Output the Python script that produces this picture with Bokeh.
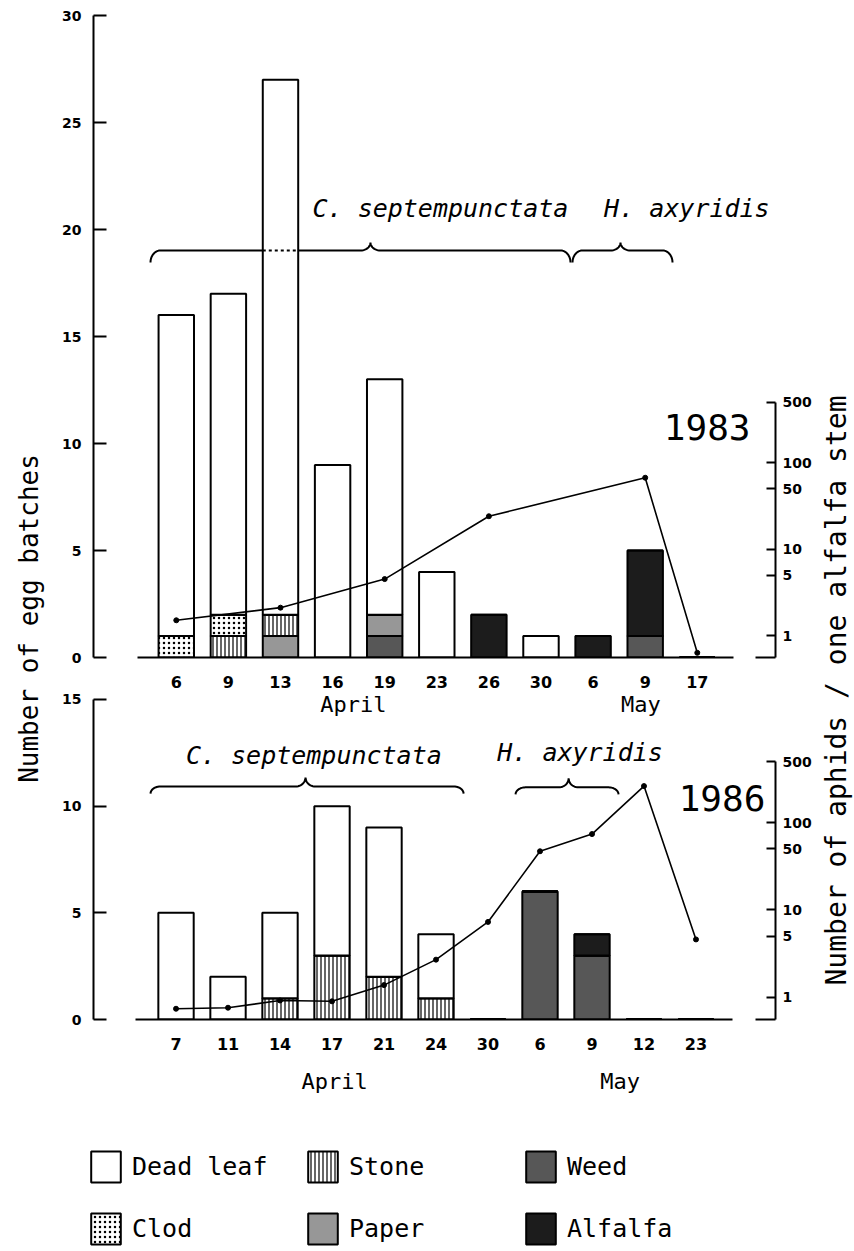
import math
from bokeh.plotting import figure
from bokeh.models import (Range1d, LogScale, LinearAxis, LogAxis, FixedTicker, Label,
                          Legend, LegendItem, ColumnDataSource, NumeralTickFormatter)
from bokeh.layouts import row, column
from bokeh.core.properties import value
from bokeh.embed import file_html
from bokeh.resources import INLINE

# ---------------- data ----------------
# stacking order, bottom -> top
substrates = ["Weed", "Paper", "Stone", "Clod", "Alfalfa", "Dead leaf"]

months_1983 = ["April"] * 8 + ["May"] * 3
days_1983 = ["6", "9", "13", "16", "19", "23", "26", "30", "6", "9", "17"]
weed_1983 = [0, 0, 0, 0, 1, 0, 0, 0, 0, 1, 0]
paper_1983 = [0, 0, 1, 0, 1, 0, 0, 0, 0, 0, 0]
stone_1983 = [0, 1, 1, 0, 0, 0, 0, 0, 0, 0, 0]
clod_1983 = [1, 1, 0, 0, 0, 0, 0, 0, 0, 0, 0]
alfalfa_1983 = [0, 0, 0, 0, 0, 0, 2, 0, 1, 4, 0]
deadleaf_1983 = [15, 15, 25, 9, 11, 4, 0, 1, 0, 0, 0]
aphid_dates_1983 = [("April", "6"), ("April", "13"), ("April", "19"), ("April", "26"),
                    ("May", "9"), ("May", "17")]
aphids_1983 = [1.5, 2.1, 4.5, 24, 67, 0.63]

months_1986 = ["April"] * 7 + ["May"] * 4
days_1986 = ["7", "11", "14", "17", "21", "24", "30", "6", "9", "12", "23"]
weed_1986 = [0, 0, 0, 0, 0, 0, 0, 6, 3, 0, 0]
paper_1986 = [0, 0, 0, 0, 0, 0, 0, 0, 0, 0, 0]
stone_1986 = [0, 0, 1, 3, 2, 1, 0, 0, 0, 0, 0]
clod_1986 = [0, 0, 0, 0, 0, 0, 0, 0, 0, 0, 0]
alfalfa_1986 = [0, 0, 0, 0, 0, 0, 0, 0, 1, 0, 0]
deadleaf_1986 = [5, 2, 4, 7, 7, 3, 0, 0, 0, 0, 0]
aphid_dates_1986 = list(zip(months_1986, days_1986))
aphids_1986 = [0.74, 0.76, 0.92, 0.9, 1.38, 2.7, 7.3, 47, 74, 262, 4.6]

egg_ticks_1983 = [0, 5, 10, 15, 20, 25, 30]
egg_ticks_1986 = [0, 5, 10, 15]
aphid_ticks = [1, 5, 10, 50, 100, 500]
month_names = ["April", "May"]

# ---------------- styling ----------------
W, H = 854, 1251
H_TOP, H_BOT = 690, 420
H_CHARTS = H_TOP + H_BOT
W_L, W_M, W_R = 46, 770, 38
BORDER_L, BORDER_R = 47, 41          # same for both stacked plots (Bokeh aligns them)
MONO = "DejaVu Sans Mono"
SANS = "DejaVu Sans"
BAR_W = 0.68

FILL = {"Weed": "#575757", "Paper": "#979797", "Stone": "white", "Clod": "white",
        "Alfalfa": "#1c1c1c", "Dead leaf": "white"}
HATCH = {"Weed": " ", "Paper": " ", "Stone": "vertical_line", "Clod": "dot",
         "Alfalfa": " ", "Dead leaf": " "}
HSCALE = {"Weed": 12, "Paper": 12, "Stone": 4, "Clod": 5, "Alfalfa": 12, "Dead leaf": 12}
HWEIGHT = {"Weed": 1, "Paper": 1, "Stone": 1.2, "Clod": 1.8, "Alfalfa": 1, "Dead leaf": 1}


def base_fig(width, height, xr, yr, borders):
    f = figure(width=width, height=height, x_range=Range1d(*xr), y_range=Range1d(*yr),
               x_axis_type=None, y_axis_type=None, output_backend="svg",
               toolbar_location=None, title=None,
               min_border_left=borders[0], min_border_right=borders[1],
               min_border_top=borders[2], min_border_bottom=borders[3],
               background_fill_color="white", border_fill_color="white",
               outline_line_color=None)
    return f


def brace(fig, x0, x1, xm, y, up, down, rx):
    xs, ys = [], []
    n = 12
    for i in range(n + 1):
        t = math.pi / 2 * i / n
        xs.append(x0 + rx * (1 - math.cos(t))); ys.append(y - down + down * math.sin(t))
    for i in range(n + 1):
        t = math.pi / 2 * i / n
        xs.append(xm - rx + rx * math.sin(t)); ys.append(y + up * (1 - math.cos(t)))
    for i in range(n + 1):
        t = math.pi / 2 * i / n
        xs.append(xm + rx - rx * math.cos(t)); ys.append(y + up - up * math.sin(t))
    for i in range(n + 1):
        t = math.pi / 2 * i / n
        xs.append(x1 - rx + rx * math.sin(t)); ys.append(y - down * (1 - math.cos(t)))
    fig.line(xs, ys, line_color="black", line_width=2)


def draw_panel(fig, months, days, counts, aphid_dates, aphids, ymax, yticks, log_span,
               base_bounds):
    lo, hi = log_span
    fig.extra_y_scales = {"aph": LogScale()}
    fig.extra_y_ranges = {"aph": Range1d(lo, hi)}
    idx = list(range(len(days)))
    data = {"x": idx}
    data.update(counts)
    src = ColumnDataSource(data)
    fig.vbar_stack(substrates, x="x", width=BAR_W, source=src,
                   fill_color=[FILL[s] for s in substrates],
                   hatch_pattern=[HATCH[s] for s in substrates],
                   hatch_scale=[HSCALE[s] for s in substrates],
                   hatch_weight=[HWEIGHT[s] for s in substrates],
                   hatch_color="black", line_color="black", line_width=2)
    keys = list(zip(months, days))
    ax = [keys.index(d) for d in aphid_dates]
    fig.line(ax, aphids, y_range_name="aph", line_color="black", line_width=1.6)
    fig.scatter(ax, aphids, y_range_name="aph", size=5, color="black")

    yax = LinearAxis(ticker=FixedTicker(ticks=yticks), bounds=(0, ymax),
                     major_tick_in=13, major_tick_out=0, minor_tick_line_color=None,
                     axis_line_width=2, major_tick_line_width=2, major_label_standoff=12,
                     major_label_text_font=SANS, major_label_text_font_style="bold",
                     major_label_text_font_size="14px", major_label_text_color="black")
    fig.add_layout(yax, "left")

    rax = LogAxis(y_range_name="aph",
                  ticker=FixedTicker(ticks=aphid_ticks, minor_ticks=[lo]),
                  bounds=(lo, max(aphid_ticks)), formatter=NumeralTickFormatter(format="0"),
                  major_tick_in=9, major_tick_out=0, minor_tick_in=20, minor_tick_out=0,
                  minor_tick_line_width=2, major_tick_line_width=2, axis_line_width=2,
                  major_label_standoff=7, major_label_text_font=SANS,
                  major_label_text_font_style="bold", major_label_text_font_size="14px",
                  major_label_text_color="black")
    fig.add_layout(rax, "right")

    xax = LinearAxis(ticker=FixedTicker(ticks=idx),
                     major_label_overrides={i: d for i, d in zip(idx, days)},
                     bounds=base_bounds, major_tick_line_color=None,
                     minor_tick_line_color=None, axis_line_width=2,
                     major_label_standoff=12, major_label_text_font=SANS,
                     major_label_text_font_style="bold", major_label_text_font_size="16px",
                     major_label_text_color="black")
    fig.add_layout(xax, "below")
    return fig, idx


def text_label(fig, text, x, y, size, style="normal"):
    fig.add_layout(Label(x=x, y=y, text=text, text_align="center", text_baseline="middle",
                         text_font=MONO, text_font_style=style, text_font_size=size,
                         text_color="black"))


counts_1983 = dict(zip(substrates, [weed_1983, paper_1983, stone_1983, clod_1983,
                                    alfalfa_1983, deadleaf_1983]))
counts_1986 = dict(zip(substrates, [weed_1986, paper_1986, stone_1986, clod_1986,
                                    alfalfa_1986, deadleaf_1986]))

# ---------------- 1983 panel ----------------
p1 = base_fig(W_M, H_TOP, (-1.589, 11.501), (0, 30), (BORDER_L, BORDER_R, 15, 33))
brace(p1, -0.495, 7.566, 3.727, 19.02, 0.37, 0.56, 0.19)
brace(p1, 7.605, 9.524, 8.526, 19.02, 0.37, 0.56, 0.19)
draw_panel(p1, months_1983, days_1983, counts_1983, aphid_dates_1983, aphids_1983,
           30, egg_ticks_1983, (10 ** -0.2546, 10 ** 7.176), (-0.745, 10.695))
# brace continues (dotted) across the tall bar of 13 April
p1.line([2 - BAR_W / 2, 2 + BAR_W / 2], [19.02, 19.02], line_color="black",
        line_width=2, line_dash="3 3")
text_label(p1, "C. septempunctata", 5.07, 20.98, "25px", "italic")
text_label(p1, "H. axyridis", 9.80, 20.98, "25px", "italic")
text_label(p1, "1983", 10.19, 10.79, "36px")

# ---------------- 1986 panel ----------------
# frame reaches the top of this strip (9 px above the 15 tick) so the 1983 month
# names that fall in this strip are not clipped
p2 = base_fig(W_M, H_BOT, (-1.587, 11.529), (0, 15.42), (BORDER_L, BORDER_R, 0, 91))
brace(p2, -0.49, 5.53, 2.49, 10.92, 0.42, 0.33, 0.19)
brace(p2, 6.53, 8.51, 7.55, 10.88, 0.42, 0.33, 0.19)
_, idx86 = draw_panel(p2, months_1986, days_1986, counts_1986, aphid_dates_1986,
                      aphids_1986, 15, egg_ticks_1986, (10 ** -0.254, 10 ** 3.513),
                      (-0.779, 10.70))
text_label(p2, "C. septempunctata", 2.65, 12.38, "25px", "italic")
text_label(p2, "H. axyridis", 7.77, 12.52, "25px", "italic")
text_label(p2, "1986", 10.50, 10.36, "36px")
# month names under the 1983 day labels (they reach into this strip of the page)
text_label(p2, month_names[0], 3.41, 14.77, "22px")
text_label(p2, month_names[1], 8.94, 14.77, "22px")
# month names for 1986: a second, line-less axis under the day labels
month_pos_1986 = [3.05, 8.54]
max86 = LinearAxis(ticker=FixedTicker(ticks=month_pos_1986),
                   major_label_overrides={c: m for c, m in zip(month_pos_1986, month_names)},
                   axis_line_color=None, major_tick_line_color=None,
                   minor_tick_line_color=None, major_label_standoff=10,
                   major_label_text_font=MONO, major_label_text_font_size="22px",
                   major_label_text_color="black")
p2.add_layout(max86, "below")

# ---------------- side strips with the axis titles ----------------
pL = base_fig(W_L, H_CHARTS, (0, 1), (0, 1), (0, 0, 0, 0))
pL.add_layout(Label(x=28, y=H_CHARTS - 618, x_units="screen", y_units="screen",
                    text="Number of egg batches", angle=math.pi / 2, text_align="center",
                    text_baseline="middle", text_font=MONO, text_font_size="26px",
                    text_color="black"))
pR = base_fig(W_R, H_CHARTS, (0, 1), (0, 1), (0, 0, 0, 0))
pR.add_layout(Label(x=20, y=H_CHARTS - 690, x_units="screen", y_units="screen",
                    text="Number of aphids / one alfalfa stem", angle=math.pi / 2,
                    text_align="center", text_baseline="middle", text_font=MONO,
                    text_font_size="28px", text_color="black"))

# ---------------- legend strip (full width) ----------------
p3 = base_fig(W, H - H_CHARTS, (0, 1), (0, 1), (0, 0, 0, 0))
nan = float("nan")
dummy = {}
for s in substrates:
    # no drawable data; only its legend swatch is seen
    dummy[s] = p3.vbar(x=[nan], top=[nan], width=0.1, fill_color=FILL[s],
                       hatch_pattern=HATCH[s], hatch_scale=HSCALE[s],
                       hatch_weight=HWEIGHT[s], hatch_color="black",
                       line_color="black", line_width=2)
legend_columns = [["Dead leaf", "Clod"], ["Stone", "Paper"], ["Weed", "Alfalfa"]]
legend_x = [87, 304, 522]
for names, lx in zip(legend_columns, legend_x):
    leg = Legend(items=[LegendItem(label=value(n), renderers=[dummy[n]]) for n in names],
                 location=(lx, 3), orientation="vertical", glyph_width=37, glyph_height=39,
                 label_height=39, spacing=23, padding=0, margin=0, label_standoff=8,
                 label_text_font=MONO, label_text_font_size="25px",
                 label_text_color="black", border_line_color=None,
                 background_fill_alpha=0)
    p3.add_layout(leg)

layout = column(row(pL, column(p1, p2, spacing=0), pR, spacing=0), p3, spacing=0)

open("out.html", "w").write(file_html(layout, INLINE, title="Egg batches"))
